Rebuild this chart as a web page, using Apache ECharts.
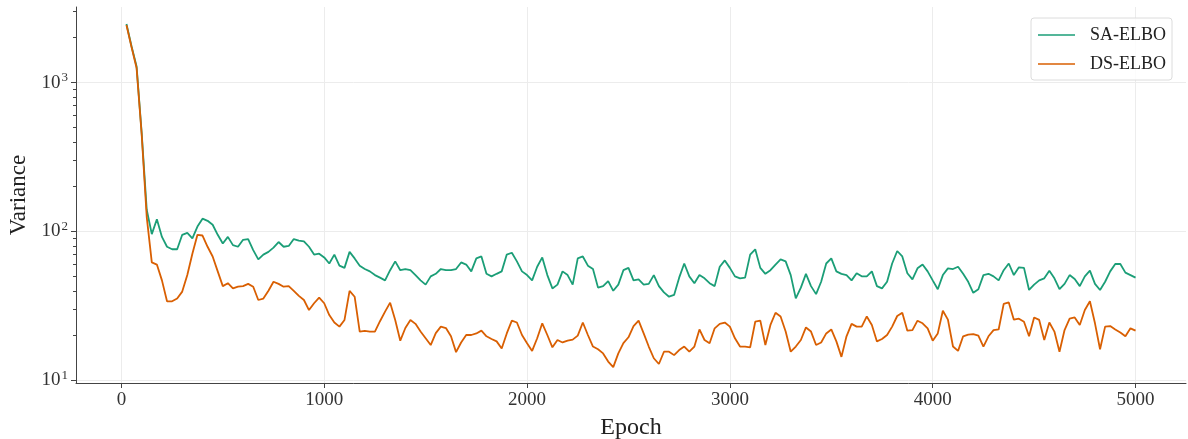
<!DOCTYPE html>
<html>
<head>
<meta charset="utf-8">
<script src="https://cdn.jsdelivr.net/npm/echarts@6/dist/echarts.min.js"></script>
<style>
  html, body { margin: 0; padding: 0; background: #fff; }
  #chart { width: 1188px; height: 439px; }
</style>
</head>
<body>
<div id="chart"></div>
<script>
// Variance of the gradient estimator, logged every 25 epochs (25 ... 5000)
const EPOCH_STEP = 25;

const saElbo = [
  2470, 1750, 1280, 460, 140, 96, 121, 92, 79, 76,
  76, 95, 98, 90, 108, 122, 118, 111, 95, 83,
  92, 81, 79, 88, 89, 75, 65, 70, 73, 78,
  85, 79, 80, 89, 87, 86, 79, 70, 71, 67,
  61, 70, 59, 57, 73, 66, 59, 56, 54, 51,
  49, 47, 55, 63, 55, 56, 55, 51, 47, 44,
  50, 52, 56, 55, 55, 56, 62, 60, 54, 66,
  68, 52, 50, 52, 54, 70, 72, 63, 54, 51,
  47, 58, 67, 51, 41.5, 44, 54, 51, 44, 66,
  68, 59, 56, 42, 43, 46.5, 40, 44, 55, 57,
  47, 47.7, 44, 44.5, 51, 43, 39, 36.5, 37.5, 49,
  61, 50, 45, 51, 48.5, 45, 43, 58, 64, 57,
  50, 48.5, 49, 70, 76, 57, 52, 55, 60, 65,
  63, 51, 35.6, 42, 52, 43, 38, 46, 61, 66,
  54, 52, 51, 47, 52.5, 50, 50, 54, 43, 41.5,
  46, 61, 74, 68, 52.5, 47.7, 56.6, 60, 54, 47,
  41, 51, 56.6, 56, 58, 52, 46, 38.8, 41, 51,
  52, 50, 47, 55, 61, 51, 57.5, 57, 40.5, 44,
  47, 48.5, 54.6, 48.5, 41, 44.5, 51, 48, 43, 50,
  54.6, 44.5, 40.5, 46, 54, 60.5, 60.5, 53, 51, 49
];

const dsElbo = [
  2430, 1730, 1250, 450, 125, 62, 60, 47, 34, 34,
  35.5, 39.5, 51, 71, 95, 94, 79, 68, 54, 43,
  45, 41.5, 42.6, 43, 44.5, 42.6, 34.7, 35.5, 40, 46,
  44.5, 42.6, 43, 40, 37, 34.7, 29.7, 33, 36, 33,
  27.5, 24.5, 23, 25.5, 40, 36.5, 21.3, 21.5, 21.3, 21.3,
  25, 29, 33.3, 25.5, 18.5, 22.5, 25.5, 24, 21.3, 19.2,
  17.3, 20.8, 23, 22.5, 19.8, 15.5, 18, 20.2, 20.2, 20.7,
  21.6, 19.8, 19, 18.3, 16.4, 20.7, 25.2, 24.5, 20.2, 17.8,
  15.8, 19.2, 24.2, 20.2, 16.7, 18.7, 18, 18.5, 18.8, 20,
  24.5, 20.2, 16.9, 16.2, 15.2, 13.4, 12.3, 15.2, 17.8, 19.5,
  23.2, 25.2, 20.7, 16.9, 14.1, 12.9, 15.6, 15.6, 14.8, 16,
  16.9, 15.6, 16.9, 22, 18.7, 17.8, 22.4, 24, 24.5, 23,
  19.2, 16.9, 16.9, 16.7, 24.8, 25.2, 17.3, 23.6, 28.5, 26.9,
  21.3, 15.6, 16.9, 18.7, 22.7, 21.3, 17.3, 18, 20.7, 22,
  18.3, 14.4, 19.8, 24, 23, 23, 26.9, 23.6, 18.3, 19,
  20.2, 23, 27.1, 28.5, 21.6, 21.8, 25.2, 24.2, 22.4, 18.5,
  20.7, 29.4, 25.6, 16.9, 15.8, 19.8, 20.3, 20.5, 20, 16.9,
  19.8, 21.8, 22, 32.7, 33.4, 25.6, 26, 24.8, 19.8, 26.5,
  25.5, 18.7, 24.5, 21.3, 15.6, 21.8, 26, 26.5, 23.6, 29.7,
  34, 24.2, 16.2, 23, 23.2, 22, 21, 19.8, 22.4, 21.6
];

const seriesNames = ['SA-ELBO', 'DS-ELBO'];
const xTickValues = [0, 1000, 2000, 3000, 4000, 5000];
const yMajorTicks = [10, 100, 1000];
const yMinorTicks = [20, 30, 40, 50, 60, 70, 80, 90,
                     200, 300, 400, 500, 600, 700, 800, 900,
                     2000, 3000];

const toPairs = vals => vals.map((v, i) => [(i + 1) * EPOCH_STEP, v]);

const FONT = '"Liberation Serif", "DejaVu Serif", serif';
const GREEN = '#1b9e77';
const ORANGE = '#d95f02';
const X_MIN = -223.75, X_MAX = 5248.75;
const Y_MIN = 9.62, Y_MAX = 3213;
// flat bar used as the legend swatch, so each entry shows just a line
const LINE_ICON = 'path://M0,0 L37,0 L37,1.7 L0,1.7 Z';

const chart = echarts.init(document.getElementById('chart'), null, { renderer: 'canvas' });

const yBase = {
  type: 'log',
  logBase: 10,
  min: Y_MIN,
  max: Y_MAX,
  position: 'left'
};

chart.setOption({
  animation: false,
  backgroundColor: '#fff',
  grid: { left: 76, right: 2, top: 7, bottom: 56, containLabel: false, outerBoundsMode: 'none' },
  legend: {
    data: seriesNames,
    orient: 'vertical',
    right: 16,
    top: 18,
    padding: [8, 6, 7, 7],
    itemGap: 11,
    itemWidth: 37,
    itemHeight: 18,
    icon: LINE_ICON,
    backgroundColor: 'rgba(255,255,255,0.85)',
    borderColor: '#dcdcdc',
    borderWidth: 1,
    borderRadius: 3,
    textStyle: { fontFamily: FONT, fontSize: 18, color: '#222', padding: [0, 0, 0, 10] }
  },
  xAxis: {
    type: 'value',
    min: X_MIN,
    max: X_MAX,
    name: 'Epoch',
    nameLocation: 'middle',
    nameGap: 33,
    nameTextStyle: { fontFamily: FONT, fontSize: 24, color: '#222' },
    axisLine: { show: true, onZero: false, lineStyle: { color: '#444', width: 1 } },
    axisTick: { show: true, length: 5, lineStyle: { color: '#444' }, customValues: xTickValues },
    axisLabel: {
      fontFamily: FONT, fontSize: 19, color: '#333', margin: 8,
      customValues: xTickValues,
      formatter: v => String(v)
    },
    splitLine: { show: true, lineStyle: { color: '#ececec', width: 1 } }
  },
  yAxis: [
    Object.assign({}, yBase, {
      name: 'Variance',
      nameLocation: 'middle',
      nameGap: 46,
      nameTextStyle: { fontFamily: FONT, fontSize: 23, color: '#222' },
      axisLine: { show: true, onZero: false, lineStyle: { color: '#444', width: 1 } },
      axisTick: { show: true, length: 5, lineStyle: { color: '#444' }, customValues: yMajorTicks },
      axisLabel: {
        customValues: yMajorTicks,
        margin: 8,
        formatter: v => '{b|10}{s|' + Math.round(Math.log10(v)) + '}',
        rich: {
          b: { fontFamily: FONT, fontSize: 19, color: '#333' },
          s: { fontFamily: FONT, fontSize: 13, color: '#333', verticalAlign: 'top', padding: [0, 0, 9, 1] }
        }
      },
      splitLine: { show: true, lineStyle: { color: '#ececec', width: 1 } }
    }),
    Object.assign({}, yBase, {
      axisLine: { show: false, onZero: false },
      axisTick: { show: true, length: 3, lineStyle: { color: '#444' }, customValues: yMinorTicks },
      axisLabel: { show: false },
      splitLine: { show: false }
    })
  ],
  series: [
    {
      name: seriesNames[0],
      type: 'line',
      yAxisIndex: 0,
      data: toPairs(saElbo),
      showSymbol: false,
      symbol: 'none',
      lineStyle: { color: GREEN, width: 1.8 },
      itemStyle: { color: GREEN },
      z: 2
    },
    {
      name: seriesNames[1],
      type: 'line',
      yAxisIndex: 0,
      data: toPairs(dsElbo),
      showSymbol: false,
      symbol: 'none',
      lineStyle: { color: ORANGE, width: 1.8 },
      itemStyle: { color: ORANGE },
      z: 3
    }
  ]
});
</script>
</body>
</html>
